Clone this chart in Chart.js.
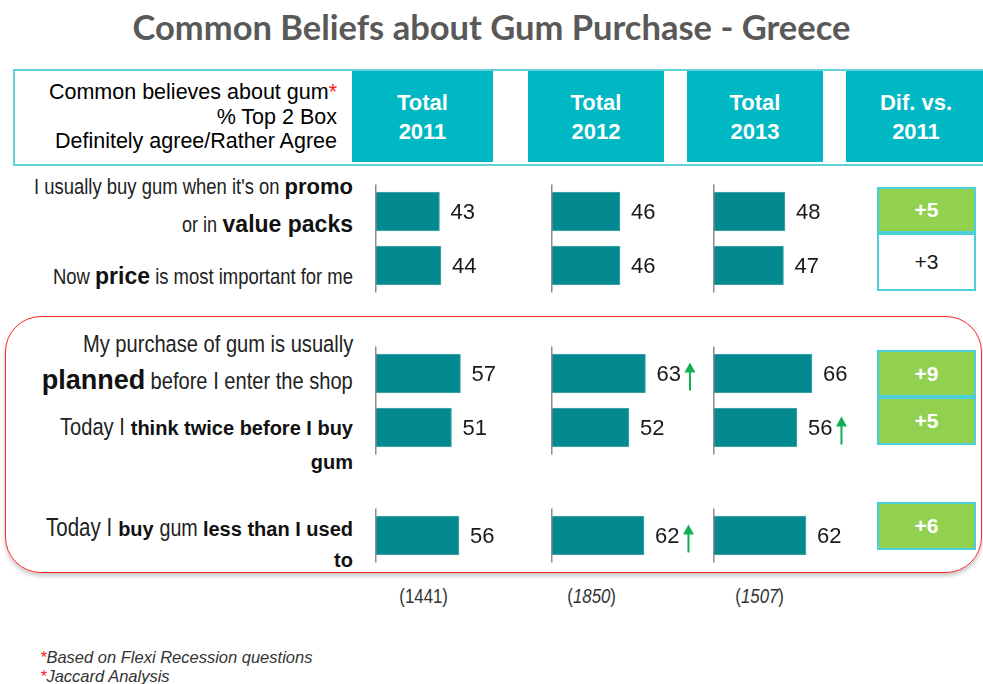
<!DOCTYPE html>
<html>
<head>
<meta charset="utf-8">
<script src="https://cdn.jsdelivr.net/npm/chart.js@4.4.1/dist/chart.umd.min.js"></script>
<style>
  body { margin: 0; background: #fff; }
  #page { position: relative; width: 983px; height: 684px; overflow: hidden; background: #fff;
          font-family: "Liberation Sans", Arial, sans-serif; color: #1a1a1a; }
  .abs { position: absolute; }
  #title { left: 0; width: 983px; top: 6px; text-align: center; font-family: Lato, "Open Sans", sans-serif;
           font-weight: 700; font-size: 34.5px; color: #595959; }
  #hdr { left: 13px; top: 69px; width: 980px; height: 93px; border: 2px solid #62d2da; background: #fff; }
  .tcell { position: absolute; top: 71px; height: 91px; background: #00b7c4; color: #fff; font-weight: 700;
           font-size: 22px; text-align: center; line-height: 29px; padding-top: 17px; box-sizing: border-box; }
  #hdrLeft { right: 646px; top: 80px; text-align: right; font-size: 21.5px; line-height: 24.5px; color: #000; }
  .stmt { position: absolute; right: 630px; text-align: right; white-space: nowrap; color: #222; line-height: 28px; }
  .stmt b { font-weight: 700; color: #111; }
  .n { display: inline-block; white-space: pre; transform-origin: left center; }
  #redbox { left: 5px; top: 316px; width: 975px; height: 255px; border: 1.5px solid #ff2424; border-radius: 36px;
            box-shadow: 0 3px 4px rgba(0,0,0,0.22); }
  .dif { position: absolute; left: 877px; width: 99px; box-sizing: border-box; border: 2px solid #4ccfd8;
         text-align: center; font-size: 21px; }
  .dif.up { background: #92d050; color: #fff; font-weight: 700; }
  .base { position: absolute; top: 584px; font-size: 20.5px; color: #333; text-align: center; width: 80px; }
  .note { position: absolute; left: 40px; font-style: italic; font-size: 16.5px; color: #333; }
  .note span { color: #ff2020; }
  canvas { position: absolute; }
</style>
</head>
<body>
<div id="page">
  <div id="title" class="abs">Common Beliefs about Gum Purchase - Greece</div>

  <div id="hdr" class="abs"></div>
  <div class="tcell" style="left:352px;width:141px">Total<br>2011</div>
  <div class="tcell" style="left:528px;width:136px">Total<br>2012</div>
  <div class="tcell" style="left:687px;width:136px">Total<br>2013</div>
  <div class="tcell" style="left:846px;width:140px">Dif. vs.<br>2011</div>
  <div id="hdrLeft" class="abs">Common believes about gum<span style="color:#ff2020">*</span><br>% Top 2 Box<br>Definitely agree/Rather Agree</div>

  <div id="redbox" class="abs"></div>

  <div class="stmt" style="top:173px"><span class="n" style="font-size:22.5px">I usually buy gum when it's on </span><b style="font-size:22px">promo</b></div>
  <div class="stmt" style="top:210px"><span class="n" style="font-size:22px">or in </span><b style="font-size:23px">value packs</b></div>
  <div class="stmt" style="top:262px"><span class="n" style="font-size:22.5px">Now </span><b style="font-size:23px">price</b><span class="n" style="font-size:22.5px"> is most important for me</span></div>

  <div class="stmt" style="top:330px"><span class="n" style="font-size:24.5px">My purchase of gum is usually</span></div>
  <div class="stmt" style="top:366px"><b style="font-size:27px">planned</b><span class="n" style="font-size:24.5px"> before I enter the shop</span></div>
  <div class="stmt" style="top:413px"><span class="n" style="font-size:24.5px">Today I </span><b style="font-size:20px">think twice before I buy</b></div>
  <div class="stmt" style="top:448px"><b style="font-size:20px">gum</b></div>

  <div class="stmt" style="top:513px"><span class="n" style="font-size:25px">Today I </span><b style="font-size:20px">buy</b><span class="n" style="font-size:24px"> gum </span><b style="font-size:20px">less than I used</b></div>
  <div class="stmt" style="top:546px"><b style="font-size:20px">to</b></div>

  <div id="difs"></div>

  <div class="base" style="left:384px"><span class="n">(1441)</span></div>
  <div class="base" style="left:552px"><span class="n">(<i>1850</i>)</span></div>
  <div class="base" style="left:720px"><span class="n">(<i>1507</i>)</span></div>

  <div class="note" style="top:648px"><span>*</span>Based on Flexi Recession questions</div>
  <div class="note" style="top:667px"><span>*</span>Jaccard Analysis</div>

  <canvas id="c2011" width="230" height="405" style="left:375px;top:171px"></canvas>
  <canvas id="c2012" width="230" height="405" style="left:551px;top:171px"></canvas>
  <canvas id="c2013" width="230" height="405" style="left:713px;top:171px"></canvas>
</div>

<script>
// % top 2 box per statement, one array per wave
const total2011 = [43, 44, 57, 51, 56];
const total2012 = [46, 46, 63, 52, 62];
const total2013 = [48, 47, 66, 56, 62];
// significant increase vs previous wave (green arrow)
const up2012 = [false, false, true, false, true];
const up2013 = [false, false, false, true, false];
// difference 2013 vs 2011, and whether it is significant
const difVs2011 = [5, 3, 9, 5, 6];
const difSig = [true, false, true, true, true];

// rows sit on a grid of 27px slots, with empty slots between the groups
const rowSlots = [1, 3, 7, 9, 13];
const slotCount = 15;
const groups = [[0, 1], [2, 3], [4]];

// narrow type: squeeze plain-text runs horizontally and give back the width
const NARROW = 0.82;
document.querySelectorAll('.n').forEach(el => {
  const w = el.getBoundingClientRect().width;
  el.style.transform = 'scaleX(' + NARROW + ')';
  el.style.marginRight = (-(1 - NARROW) * w) + 'px';
});
// centred sample sizes need the origin in the middle instead
document.querySelectorAll('.base .n').forEach(el => {
  el.style.marginRight = '0px';
  el.style.transformOrigin = 'center center';
});

const difTops = [187, 233, 350, 397, 502];
const difHeights = [46, 58, 47, 48, 48];
const difBox = document.getElementById('difs');
difVs2011.forEach((d, i) => {
  const el = document.createElement('div');
  el.className = 'dif' + (difSig[i] ? ' up' : '');
  el.style.top = difTops[i] + 'px';
  el.style.height = difHeights[i] + 'px';
  el.style.lineHeight = (difHeights[i] - 4) + 'px';
  el.textContent = '+' + d;
  difBox.appendChild(el);
});

function rowDecor(arrows) {
  return {
    id: 'rowDecor',
    afterDatasetsDraw(chart) {
      const ctx = chart.ctx;
      const y = chart.scales.y;
      const left = chart.chartArea.left;
      ctx.save();
      // axis line, one piece per group
      ctx.strokeStyle = '#8c8c8c';
      ctx.lineWidth = 1.5;
      groups.forEach(g => {
        const y0 = y.getPixelForValue(rowSlots[g[0]] - 1);
        const y1 = y.getPixelForValue(rowSlots[g[g.length - 1]] + 1);
        ctx.beginPath();
        ctx.moveTo(left + 0.75, y0);
        ctx.lineTo(left + 0.75, y1);
        ctx.stroke();
      });
      // value labels and arrows
      const meta = chart.getDatasetMeta(0);
      ctx.font = '22px "Liberation Sans", Arial, sans-serif';
      ctx.fillStyle = '#1a1a1a';
      ctx.textBaseline = 'middle';
      rowSlots.forEach((s, i) => {
        const bar = meta.data[s];
        const v = chart.data.datasets[0].data[s];
        const tx = bar.x + 11;
        ctx.fillText(String(v), tx, bar.y + 1);
        if (arrows[i]) {
          const ax = tx + ctx.measureText(String(v)).width + 9;
          ctx.strokeStyle = '#10b050';
          ctx.fillStyle = '#10b050';
          ctx.lineWidth = 2;
          ctx.beginPath();
          ctx.moveTo(ax, bar.y - 4);
          ctx.lineTo(ax, bar.y + 17);
          ctx.stroke();
          ctx.beginPath();
          ctx.moveTo(ax, bar.y - 11);
          ctx.lineTo(ax - 5.5, bar.y - 1);
          ctx.lineTo(ax + 5.5, bar.y - 1);
          ctx.closePath();
          ctx.fill();
          ctx.fillStyle = '#1a1a1a';
        }
      });
      ctx.restore();
    }
  };
}

function makeChart(id, values, arrows) {
  const labels = Array.from({ length: slotCount }, (_, i) => 's' + i);
  const data = new Array(slotCount).fill(null);
  rowSlots.forEach((s, i) => { data[s] = values[i]; });
  return new Chart(document.getElementById(id), {
    type: 'bar',
    data: {
      labels: labels,
      datasets: [{
        data: data,
        backgroundColor: '#038a90',
        borderColor: '#52a9ad',
        borderWidth: 1,
        borderSkipped: false,
        barThickness: 39
      }]
    },
    options: {
      indexAxis: 'y',
      responsive: false,
      animation: false,
      layout: { padding: { left: 0, right: 80, top: 0, bottom: 0 } },
      plugins: { legend: { display: false }, tooltip: { enabled: false } },
      scales: {
        x: { display: false, min: 0, max: 100 },
        y: { display: false }
      }
    },
    plugins: [rowDecor(arrows)]
  });
}

makeChart('c2011', total2011, [false, false, false, false, false]);
makeChart('c2012', total2012, up2012);
makeChart('c2013', total2013, up2013);
</script>
</body>
</html>
